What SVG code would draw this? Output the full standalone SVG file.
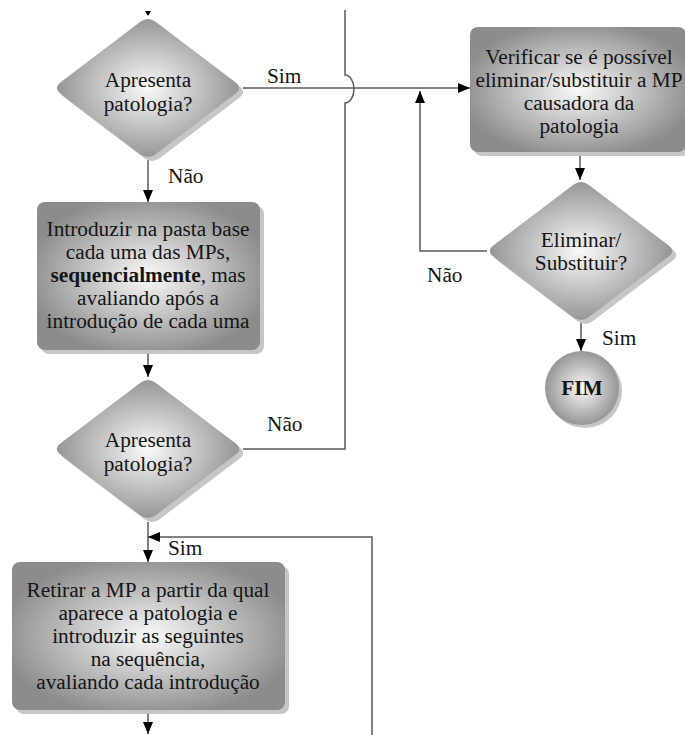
<svg xmlns="http://www.w3.org/2000/svg" width="685" height="735" viewBox="0 0 685 735">
<style>
.t{font-family:"Liberation Serif","Times New Roman",serif;font-size:21.3px;fill:#151515;text-anchor:middle}
.l{font-family:"Liberation Serif","Times New Roman",serif;font-size:21.3px;fill:#151515}
.c{fill:none;stroke:#5a5a5a;stroke-width:1.5}
.sh{fill:#c6c6c6}
.g{fill:url(#rg)}
</style>
<defs>
<radialGradient id="rg" cx="50%" cy="50%" r="55%">
<stop offset="0" stop-color="#fafafa"/>
<stop offset="1" stop-color="#8c8c8c"/>
</radialGradient>
<path id="dia" d="M-7.6,-66.24 Q0,-72 7.6,-66.24 L87.4,-5.76 Q95,0 87.4,5.76 L7.6,66.24 Q0,72 -7.6,66.24 L-87.4,5.76 Q-95,0 -87.4,-5.76 Z"/>
<marker id="ah" viewBox="0 0 12 10" refX="12" refY="5" markerWidth="12" markerHeight="10" orient="auto" markerUnits="userSpaceOnUse">
<path d="M0,0 L12,5 L0,10 Z" fill="#000"/>
</marker>
</defs>

<g id="connectors">
<path d="M145,11 L151,11 L148,16 Z" fill="#000"/>
<path class="c" d="M243,88 L470,88" marker-end="url(#ah)"/>
<path class="c" d="M243,449 L345,449 L345,103 A9,14 0 0 0 345,75 L345,10"/>
<path class="c" d="M580,152 L580,180" marker-end="url(#ah)"/>
<path class="c" d="M487,251 L420,251 L420,91" marker-end="url(#ah)"/>
<path class="c" d="M581,322 L581,351" marker-end="url(#ah)"/>
<path class="c" d="M148,160 L148,202" marker-end="url(#ah)"/>
<path class="c" d="M148,352 L148,377" marker-end="url(#ah)"/>
<path class="c" d="M148,522 L148,562" marker-end="url(#ah)"/>
<path class="c" d="M372,735 L372,537 L148,537" marker-end="url(#ah)"/>
<path class="c" d="M148,712 L148,734" marker-end="url(#ah)"/>
<text class="l" x="267" y="83">Sim</text>
<text class="l" x="168" y="183">Não</text>
<text class="l" x="267" y="431">Não</text>
<text class="l" x="168" y="555">Sim</text>
<text class="l" x="427" y="282">Não</text>
<text class="l" x="602" y="345">Sim</text>
</g>

<g id="d1">
<use href="#dia" class="sh" transform="translate(152,92)"/>
<use href="#dia" class="g" transform="translate(148,88)"/>
<text class="t" x="148" y="87">Apresenta</text>
<text class="t" x="148" y="111">patologia?</text>
</g>

<g id="b1">
<rect class="sh" x="474" y="31" width="216" height="125" rx="8"/>
<rect class="g" x="470" y="27" width="216" height="125" rx="8"/>
<text class="t" x="579" y="64">Verificar se é possível</text>
<text class="t" x="579" y="87">eliminar/substituir a MP</text>
<text class="t" x="579" y="110">causadora da</text>
<text class="t" x="579" y="133">patologia</text>
</g>

<g id="d3">
<use href="#dia" class="sh" transform="translate(585,255)"/>
<use href="#dia" class="g" transform="translate(581,251)"/>
<text class="t" x="581" y="247">Eliminar/</text>
<text class="t" x="581" y="270">Substituir?</text>
</g>

<g id="fim">
<circle class="sh" cx="585" cy="391" r="37"/>
<circle class="g" cx="582" cy="388" r="37"/>
<text class="t" x="582" y="395" font-weight="bold">FIM</text>
</g>

<g id="b2">
<rect class="sh" x="41" y="206" width="223" height="148" rx="8"/>
<rect class="g" x="37" y="202" width="223" height="148" rx="8"/>
<text class="t" x="148" y="236">Introduzir na pasta base</text>
<text class="t" x="148" y="259">cada uma das MPs,</text>
<text class="t" x="148" y="282"><tspan font-weight="bold">sequencialmente</tspan>, mas</text>
<text class="t" x="148" y="305">avaliando após a</text>
<text class="t" x="148" y="328">introdução de cada uma</text>
</g>

<g id="d2">
<use href="#dia" class="sh" transform="translate(152,453)"/>
<use href="#dia" class="g" transform="translate(148,449)"/>
<text class="t" x="148" y="447">Apresenta</text>
<text class="t" x="148" y="471">patologia?</text>
</g>

<g id="b3">
<rect class="sh" x="16" y="566" width="273" height="148" rx="8"/>
<rect class="g" x="12" y="562" width="273" height="148" rx="8"/>
<text class="t" x="148" y="597">Retirar a MP a partir da qual</text>
<text class="t" x="148" y="620">aparece a patologia e</text>
<text class="t" x="148" y="643">introduzir as seguintes</text>
<text class="t" x="148" y="666">na sequência,</text>
<text class="t" x="148" y="689">avaliando cada introdução</text>
</g>
</svg>
